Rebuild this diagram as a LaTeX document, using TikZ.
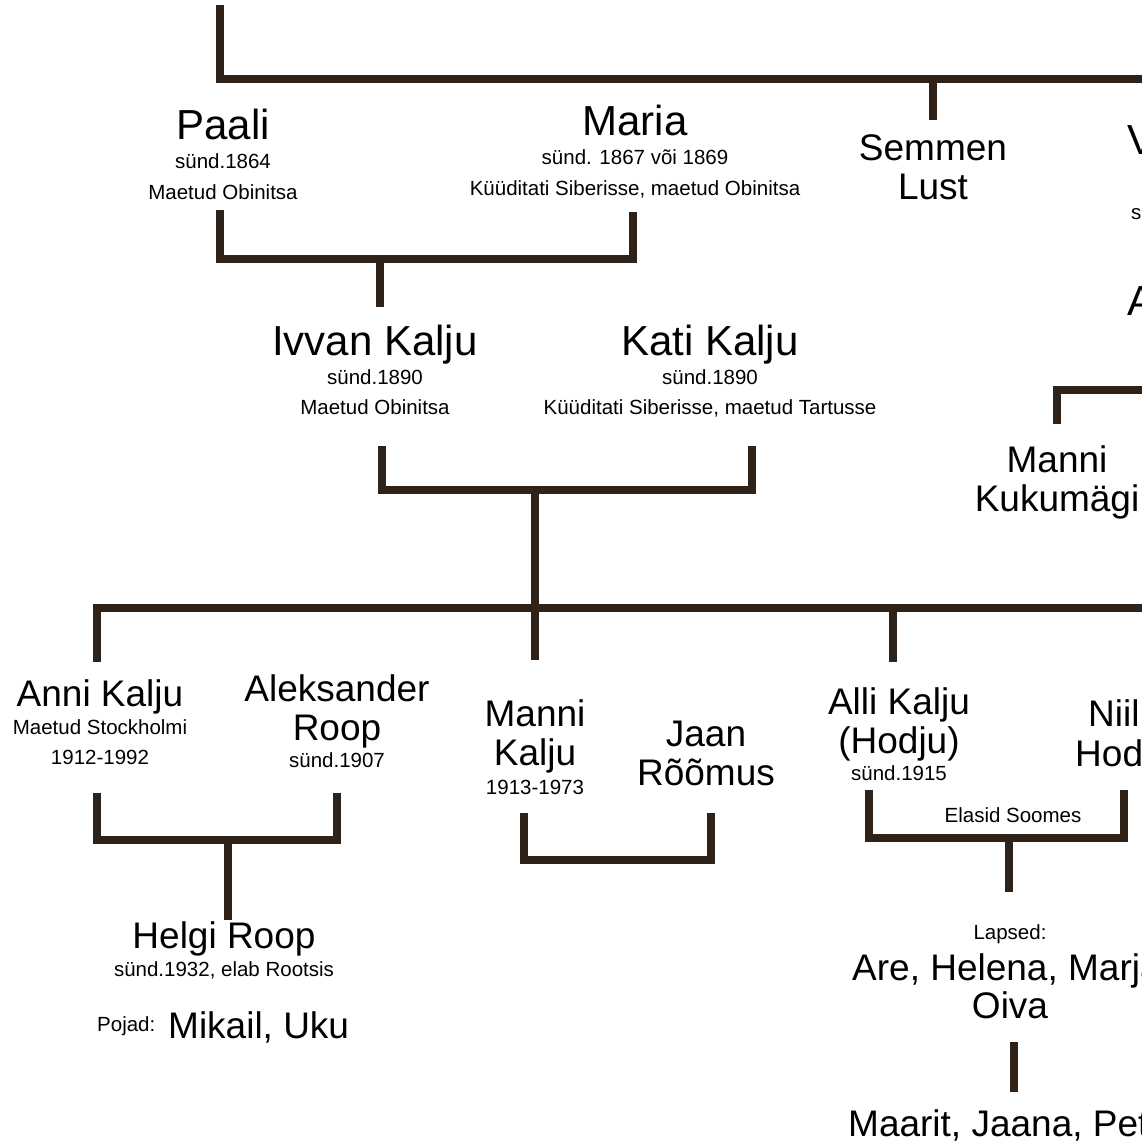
\documentclass[tikz,border=0pt]{standalone}
\usepackage{fontspec}
\setmainfont{Liberation Sans}

\definecolor{treeline}{HTML}{2F2218}

\tikzset{
  bigname/.style={font=\fontsize{42}{40}\selectfont, align=center, anchor=base, inner sep=0pt},
  person/.style={font=\fontsize{37}{38.5}\selectfont, align=center, anchor=base, inner sep=0pt},
  info/.style={font=\fontsize{20.5}{30}\selectfont, align=center, anchor=base, inner sep=0pt},
  link/.style={draw=treeline, line width=7.5pt, line join=miter},
}

\begin{document}
\begin{tikzpicture}[x=1pt, y=-1pt]
  \useasboundingbox (0,0) rectangle (1142,1142);
  \clip (0,0) rectangle (1142,1142);

  % generation 1 (multi-line nodes sit on their last baseline)
  \node[bigname] (paali) at (223,140) {Paali};
  \node[info] (paali-info) at (223,199) {sünd.1864\\Maetud Obinitsa};
  \node[bigname] (maria) at (635,136) {Maria};
  \node[info] (maria-info) at (635,195) {sünd. 1867 või 1869\\Küüditati Siberisse, maetud Obinitsa};
  \node[person] (semmen) at (933,199) {Semmen\\Lust};
  \node[bigname, anchor=base west] (v) at (1127,155) {V};
  \node[info, anchor=base west] (v-info) at (1131,219) {s};
  \node[bigname, anchor=base west] (a) at (1127,315) {A};

  % generation 2
  \node[bigname] (ivvan) at (375,355) {Ivvan Kalju};
  \node[info] (ivvan-info) at (375,414) {sünd.1890\\Maetud Obinitsa};
  \node[bigname] (kati) at (710,355) {Kati Kalju};
  \node[info] (kati-info) at (710,414) {sünd.1890\\Küüditati Siberisse, maetud Tartusse};
  \node[person] (kukumagi) at (1057,511) {Manni\\Kukumägi};

  % generation 3
  \node[person] (anni) at (100,706) {Anni Kalju};
  \node[info] (anni-info) at (100,764) {Maetud Stockholmi\\1912-1992};
  \node[person] (aleksander) at (337,740) {Aleksander\\Roop};
  \node[info] (aleksander-info) at (337,767) {sünd.1907};
  \node[person] (manni) at (535,765) {Manni\\Kalju};
  \node[info] (manni-info) at (535,794) {1913-1973};
  \node[person] (jaan) at (706,785) {Jaan\\Rõõmus};
  \node[person] (alli) at (899,753) {Alli Kalju\\(Hodju)};
  \node[info] (alli-info) at (899,780) {sünd.1915};
  \node[person, anchor=base west] (niil) at (1088,726) {Niil};
  \node[person, anchor=base west] (hod) at (1075,766) {Hod};
  \node[info] (soomes) at (1013,822) {Elasid Soomes};

  % generation 4 and 5
  \node[person] (helgi) at (224,948) {Helgi Roop};
  \node[info] (helgi-info) at (224,976) {sünd.1932, elab Rootsis};
  \node[info, anchor=base west] (pojad) at (97,1031) {Pojad:};
  \node[person, anchor=base west] (mikail) at (168,1038) {Mikail, Uku};
  \node[info] (lapsed) at (1010,939) {Lapsed:};
  \node[person, anchor=base west] (are) at (852,980) {Are, Helena, Marja};
  \node[person] (oiva) at (1010,1018) {Oiva};
  \node[person, anchor=base west] (maarit) at (848,1136) {Maarit, Jaana, Pet};

  % line ends
  \path (220,5) coordinate (root);
  \path (1150,79) coordinate (top-r);
  \path (933,79) coordinate (semmen-bar);
  \path (933,120) coordinate (semmen-t);
  \path (220,210) coordinate (paali-b);
  \path (633,212) coordinate (maria-b);
  \path (380,259) coordinate (pm-bar);
  \path (380,307) coordinate (ivvan-t);
  \path (382,446) coordinate (ivvan-b);
  \path (752,446) coordinate (kati-b);
  \path (535,490) coordinate (ik-bar);
  \path (1057,424) coordinate (kukumagi-t);
  \path (1150,390) coordinate (kukumagi-r);
  \path (97,608) coordinate (kids-l);
  \path (1150,608) coordinate (kids-r);
  \path (97,662) coordinate (anni-t);
  \path (535,660) coordinate (manni-t);
  \path (893,608) coordinate (alli-bar);
  \path (893,662) coordinate (alli-t);
  \path (97,793) coordinate (anni-b);
  \path (337,793) coordinate (aleksander-b);
  \path (228,840) coordinate (aa-bar);
  \path (228,920) coordinate (helgi-t);
  \path (524,813) coordinate (manni-b);
  \path (711,813) coordinate (jaan-b);
  \path (617,860) coordinate (mj-bar);
  \path (869,790) coordinate (alli-b);
  \path (1124,790) coordinate (niil-b);
  \path (1009,838) coordinate (an-bar);
  \path (1009,892) coordinate (lapsed-t);
  \path (1014,1042) coordinate (oiva-b);
  \path (1014,1092) coordinate (maarit-t);

  \draw[link] (root) |- (top-r);
  \draw[link] (semmen-bar) -- (semmen-t);
  \draw[link] (paali-b) |- (pm-bar) -| (maria-b);
  \draw[link] (pm-bar) -- (ivvan-t);
  \draw[link] (ivvan-b) |- (ik-bar) -| (kati-b);
  \draw[link] (ik-bar) -- (manni-t);
  \draw[link] (kukumagi-t) |- (kukumagi-r);
  \draw[link] (anni-t) -- (kids-l) -- (kids-r);
  \draw[link] (alli-bar) -- (alli-t);
  \draw[link] (anni-b) |- (aa-bar) -| (aleksander-b);
  \draw[link] (aa-bar) -- (helgi-t);
  \draw[link] (manni-b) |- (mj-bar) -| (jaan-b);
  \draw[link] (alli-b) |- (an-bar) -| (niil-b);
  \draw[link] (an-bar) -- (lapsed-t);
  \draw[link] (oiva-b) -- (maarit-t);
\end{tikzpicture}
\end{document}
